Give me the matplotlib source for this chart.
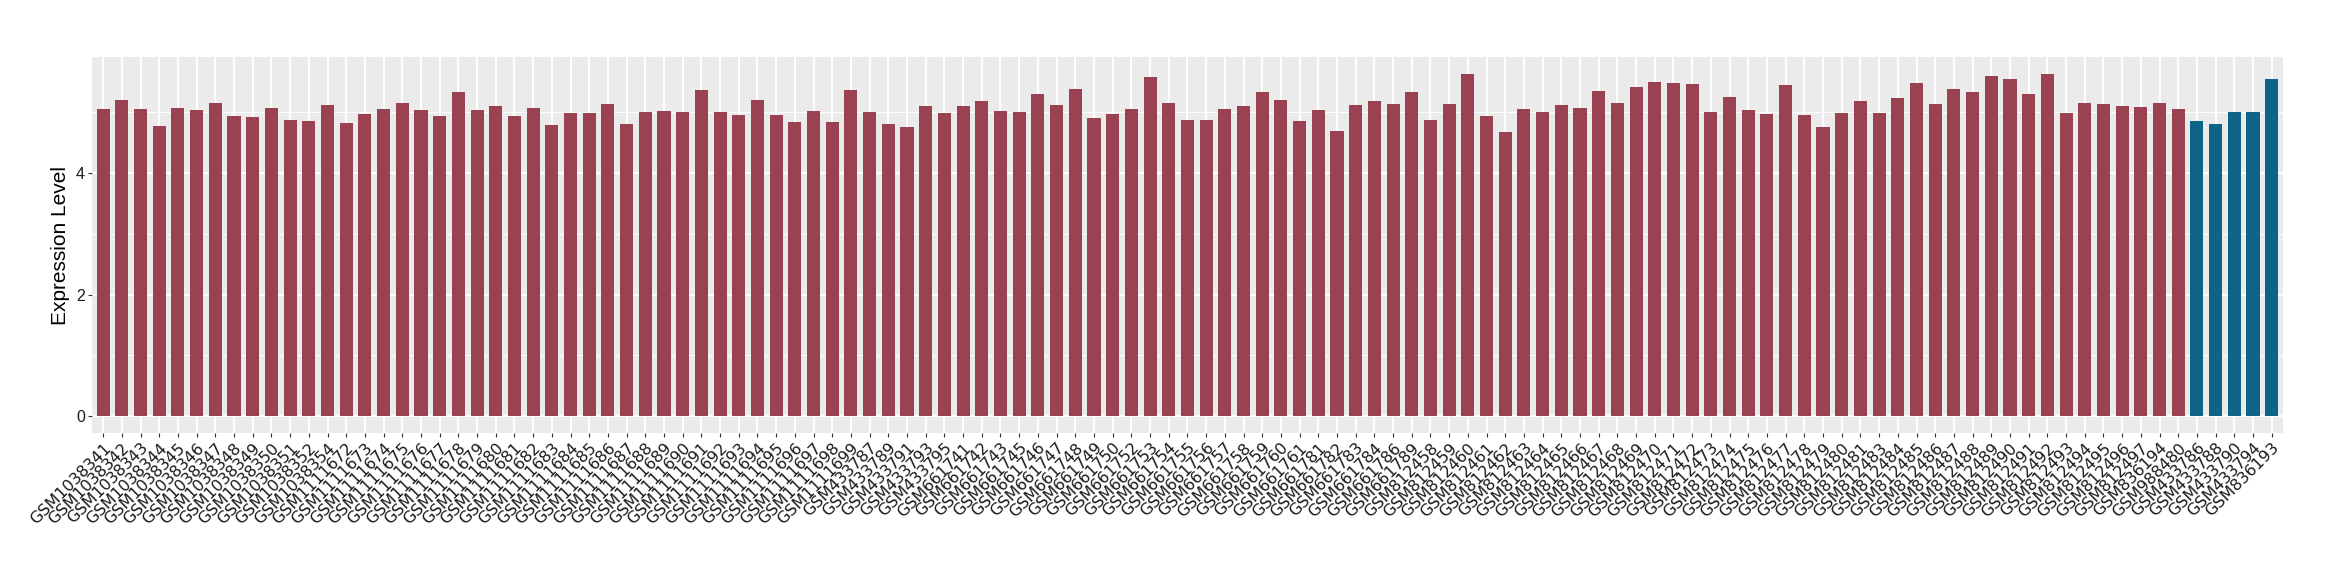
import numpy as np
import matplotlib
matplotlib.use('Agg')
import matplotlib.pyplot as plt

# sample ids (left to right)
grp1 = ['GSM10383%02d' % k for k in [41, 42, 43, 44, 45, 46, 47, 48, 49, 50, 51, 52, 54]]
grp2 = ['GSM11116%02d' % k for k in range(72, 100)]
grp3 = ['GSM4337%02d' % k for k in [87, 89, 91, 93, 95]]
grp4 = ['GSM6617%02d' % k for k in [41, 42, 43, 45, 46, 47, 48, 49, 50, 52, 53, 54, 55, 56, 57, 58, 59, 60, 61,
                                    81, 82, 83, 84, 86, 89]]
grp5 = ['GSM8124%02d' % k for k in list(range(58, 82)) + list(range(83, 98))]
grp6 = ['GSM836194', 'GSM988480']
ctrl = ['GSM433786', 'GSM433788', 'GSM433790', 'GSM433794', 'GSM836193']

samples = grp1 + grp2 + grp3 + grp4 + grp5 + grp6 + ctrl

values = [5.05, 5.20, 5.05, 4.77, 5.07, 5.03, 5.16, 4.93, 4.92, 5.07,
          4.87, 4.85, 5.12, 4.82, 4.97, 5.05, 5.15, 5.03, 4.93, 5.33,
          5.03, 5.10, 4.93, 5.07, 4.79, 4.98, 4.98, 5.13, 4.80, 5.00,
          5.02, 5.00, 5.36, 5.00, 4.95, 5.20, 4.95, 4.84, 5.02, 4.84,
          5.36, 5.00, 4.80, 4.75, 5.10, 4.98, 5.10, 5.18, 5.02, 5.00,
          5.30, 5.12, 5.38, 4.90, 4.97, 5.05, 5.58, 5.16, 4.87, 4.88,
          5.05, 5.10, 5.33, 5.20, 4.85, 5.03, 4.69, 5.12, 5.18, 5.13,
          5.33, 4.87, 5.13, 5.63, 4.93, 4.67, 5.05, 5.00, 5.12, 5.07,
          5.35, 5.16, 5.41, 5.49, 5.48, 5.46, 5.00, 5.25, 5.03, 4.97,
          5.45, 4.95, 4.75, 4.98, 5.18, 4.98, 5.23, 5.48, 5.13, 5.38,
          5.33, 5.60, 5.55, 5.30, 5.63, 4.99, 5.16, 5.13, 5.10, 5.08,
          5.16, 5.06,
          4.86, 4.81, 5.01, 5.01, 5.55]

groups = ['case'] * (len(samples) - len(ctrl)) + ['ctrl'] * len(ctrl)
colours = {'case': '#9A4251', 'ctrl': '#0C6586'}

fig = plt.figure(figsize=(23.4, 5.8), dpi=100)
ax = fig.add_axes([0.0393, 0.253, 0.9363, 0.649])
ax.set_facecolor('#EBEBEB')

x = np.arange(len(samples))
ax.bar(x, values, width=0.7, color=[colours[g] for g in groups], zorder=3)

ymax = max(values)
ax.set_ylim(-0.05 * ymax, 1.05 * ymax)
ax.set_xlim(-0.6, len(samples) - 0.4)

ax.set_yticks([0, 2, 4])
ax.set_yticks([1, 3, 5], minor=True)
ax.set_xticks(x)
ax.set_xticklabels(samples, rotation=45, ha='right', rotation_mode='anchor',
                   fontsize=11.5, color='#1A1A1A')
ax.tick_params(axis='y', labelsize=11.5, labelcolor='#1A1A1A', color='#333333', length=3, width=0.8, pad=2)
ax.tick_params(axis='y', which='minor', length=0)
ax.tick_params(axis='x', color='#333333', length=3, width=0.8, pad=2)
for lab in ax.get_yticklabels():
    lab.set_family('Liberation Sans')

ax.grid(which='major', color='white', linewidth=1.4, zorder=0)
ax.grid(which='minor', axis='y', color='white', linewidth=0.7, zorder=0)
ax.set_axisbelow(True)
for s in ax.spines.values():
    s.set_visible(False)

ax.set_ylabel('Expression Level', fontsize=15, family='Liberation Sans', labelpad=4)

fig.savefig('out.png', dpi=100)
